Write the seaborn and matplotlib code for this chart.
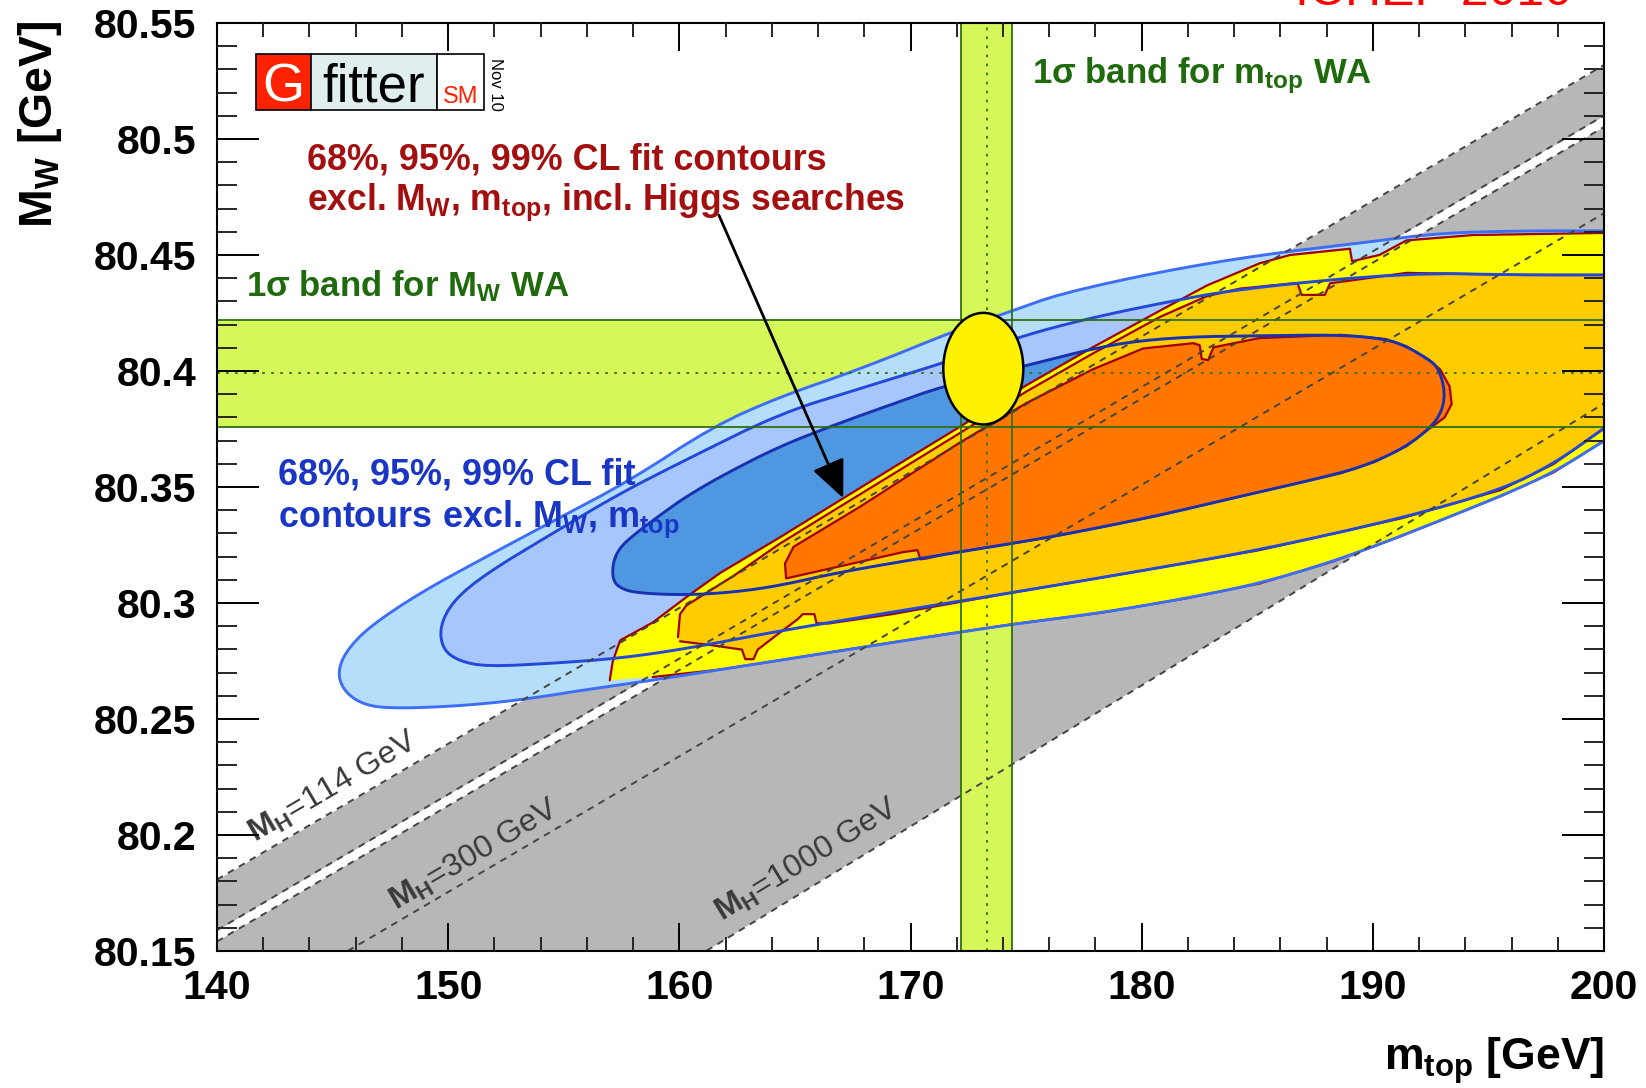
import numpy as np
import pandas as pd
import matplotlib
matplotlib.use("Agg")
import matplotlib.pyplot as plt
from matplotlib.patches import Ellipse, Rectangle
import seaborn as sns

# ---------------- data ----------------
# world averages (1 sigma bands)
mtop_wa, mtop_err = 173.3, 1.1
mw_wa, mw_err = 80.399, 0.023

# direct measurement ellipse
meas_mtop, meas_mw = 173.15, 80.401
meas_width, meas_height = 3.46, 0.0481

# SM prediction for fixed Higgs mass: M_W at m_top = 140 and 200 GeV
higgs_masses = [114, 158, 175, 300, 1000]
mw_at_140 = [80.1808, 80.1590, 80.1541, 80.1169, 80.0214]
mw_at_200 = [80.5319, 80.5101, 80.5052, 80.4680, 80.3860]
higgs_label_masses = [114, 300, 1000]
higgs_label_mtop = [141.64, 147.77, 161.85]
higgs_label_mw = [80.1966, 80.1672, 80.1627]

# fit contours excluding M_W, m_top (standard fit)
blue99_mtop = [200.0, 196.46, 192.91, 189.64, 185.10, 180.79, 176.47, 174.43, 172.16, 167.80,
               164.35, 161.48, 157.85, 154.67, 151.67, 148.77, 146.59, 145.59, 145.22,
               145.45, 146.18, 147.31, 150.22, 153.08, 155.99, 158.85, 161.76, 164.35, 169.21,
               174.29, 178.20, 181.92, 185.10, 188.28, 191.19, 195.50, 197.82, 200.0]
blue99_mw = [80.4604, 80.4604, 80.4595, 80.4554, 80.4500, 80.4428, 80.4333, 80.4260, 80.4183, 80.4007,
             80.3889, 80.3762, 80.3527, 80.3360, 80.3201, 80.3043, 80.2898, 80.2794, 80.2704,
             80.2627, 80.2568, 80.2545, 80.2554, 80.2581, 80.2627, 80.2667, 80.2713, 80.2753, 80.2830,
             80.2907, 80.2957, 80.3020, 80.3084, 80.3179, 80.3287, 80.3459, 80.3563, 80.3699]

blue95_mtop = [200.0, 196.46, 191.46, 184.24, 180.56, 177.38, 174.88, 171.39, 167.84, 164.35,
               160.30, 157.44, 154.53, 151.67, 150.22, 149.63,
               149.77, 150.49, 151.67, 154.53, 157.44, 160.30, 164.35, 169.21, 174.29, 179.65,
               185.10, 191.19, 195.50, 197.82, 200.0]
blue95_mw = [80.4414, 80.4414, 80.4423, 80.4355, 80.4287, 80.4219, 80.4152, 80.4034, 80.3925, 80.3817,
             80.3618, 80.3473, 80.3301, 80.3129, 80.3011, 80.2898,
             80.2799, 80.2749, 80.2726, 80.2740, 80.2762, 80.2803, 80.2880, 80.2961, 80.3043, 80.3133,
             80.3228, 80.3364, 80.3486, 80.3599, 80.3753]

blue68_mtop = [157.12, 157.40, 158.12, 159.21, 160.30, 161.94, 164.35, 166.93, 169.21, 171.39, 174.88,
               177.38, 179.33, 181.92, 185.10, 188.60, 190.55, 191.46, 192.37, 192.78, 193.05, 193.10,
               192.91, 192.46, 191.46, 190.10, 188.60, 184.24, 180.56, 176.02, 171.48, 166.93, 164.35,
               162.39, 160.30, 158.12, 157.40, 157.12]
blue68_mw = [80.3170, 80.3237, 80.3301, 80.3382, 80.3459, 80.3554, 80.3676, 80.3776, 80.3857, 80.3934, 80.4020,
             80.4084, 80.4124, 80.4147, 80.4152, 80.4156, 80.4138, 80.4106, 80.4052, 80.4020, 80.3948, 80.3876,
             80.3812, 80.3753, 80.3676, 80.3609, 80.3559, 80.3459, 80.3373, 80.3283, 80.3210, 80.3133, 80.3075,
             80.3047, 80.3034, 80.3043, 80.3066, 80.3102]

# fit contours including Higgs searches
yellow99_mtop = [156.99, 157.12, 157.44, 158.85, 160.30, 161.76, 164.35, 167.07, 169.66, 172.11, 175.02,
                 177.88, 180.79, 182.83, 185.10, 186.42, 189.01, 189.10, 190.28, 191.46, 194.32, 200.0,
                 200.0, 197.82, 195.50, 191.19, 188.28, 185.10, 181.92, 178.20, 174.29, 169.21, 164.35,
                 161.76, 158.85]
yellow99_mw = [80.2667, 80.2749, 80.2839, 80.2916, 80.3025, 80.3129, 80.3283, 80.3450, 80.3609, 80.3758, 80.3939,
               80.4102, 80.4260, 80.4369, 80.4464, 80.4500, 80.4527, 80.4473, 80.4500, 80.4563, 80.4586, 80.4595,
               80.3699, 80.3563, 80.3459, 80.3287, 80.3179, 80.3084, 80.3020, 80.2957, 80.2907, 80.2830, 80.2753,
               80.2713, 80.2681]

gold95_mtop = [159.94, 160.03, 160.30, 162.39, 164.35, 167.07, 169.66, 172.11, 175.02, 177.88, 180.79,
               182.83, 184.24, 186.56, 186.74, 186.92, 187.92, 188.15, 191.46, 196.46, 200.0,
               200.0, 197.82, 195.50, 191.19, 185.10, 179.65, 174.29, 169.21, 166.48, 165.94, 165.84,
               165.34, 165.12, 164.21, 163.39, 163.21, 162.85, 162.71, 161.48, 160.03]
gold95_mw = [80.2853, 80.2952, 80.2989, 80.3120, 80.3256, 80.3423, 80.3581, 80.3731, 80.3912, 80.4075, 80.4233,
             80.4323, 80.4355, 80.4378, 80.4378, 80.4328, 80.4328, 80.4378, 80.4423, 80.4414, 80.4414,
             80.3753, 80.3599, 80.3486, 80.3364, 80.3228, 80.3133, 80.3043, 80.2952, 80.2912, 80.2912, 80.2952,
             80.2952, 80.2930, 80.2862, 80.2799, 80.2758, 80.2758, 80.2799, 80.2817, 80.2835]

orange68_mtop = [164.57, 164.94, 167.80, 172.11, 175.02, 177.88, 180.06, 182.24, 182.51, 182.60, 182.88,
                 183.10, 185.10, 188.60, 190.55, 191.46, 192.37, 192.91, 193.32, 193.41, 193.10, 192.46,
                 191.46, 190.10, 188.60, 184.24, 180.56, 176.02, 171.48, 170.70, 170.43, 170.30, 169.66,
                 164.62]
orange68_mw = [80.3170, 80.3242, 80.3414, 80.3690, 80.3862, 80.4007, 80.4097, 80.4120, 80.4111, 80.4052, 80.4047,
               80.4102, 80.4142, 80.4156, 80.4138, 80.4106, 80.4052, 80.4007, 80.3934, 80.3857, 80.3799, 80.3753,
               80.3676, 80.3609, 80.3559, 80.3459, 80.3373, 80.3283, 80.3210, 80.3192, 80.3188, 80.3228, 80.3219,
               80.3106]

x_major = [140, 150, 160, 170, 180, 190, 200]
y_major = [80.15, 80.2, 80.25, 80.3, 80.35, 80.4, 80.45, 80.5, 80.55]

# ---------------- style ----------------
sns.set_theme(style="white")
plt.rcParams["font.family"] = ["Liberation Sans", "DejaVu Sans"]
plt.rcParams["font.weight"] = "bold"
plt.rcParams["mathtext.fontset"] = "custom"
plt.rcParams["mathtext.rm"] = "Liberation Sans"
plt.rcParams["mathtext.bf"] = "Liberation Sans:bold"
plt.rcParams["mathtext.it"] = "Liberation Sans:italic"
plt.rcParams["mathtext.default"] = "bf"

GREY = "#b7b7b7"
BAND_FILL = "#d6f75a"
BAND_EDGE = "#2f6f10"
TEXT_GREEN = "#1f6a0c"
TEXT_RED = "#a30f0f"
TEXT_BLUE = "#1a36c4"


def rounded(x, y, closed, n=2):
    """Corner-cutting so the drawn contour edges look smooth."""
    pts = np.column_stack([x, y]).astype(float)
    for _ in range(n):
        if closed:
            p, q = pts, np.roll(pts, -1, axis=0)
            new = np.empty((2 * len(p), 2))
            new[0::2] = 0.75 * p + 0.25 * q
            new[1::2] = 0.25 * p + 0.75 * q
            pts = new
        else:
            p, q = pts[:-1], pts[1:]
            new = np.empty((2 * len(p), 2))
            new[0::2] = 0.75 * p + 0.25 * q
            new[1::2] = 0.25 * p + 0.75 * q
            pts = np.vstack([pts[:1], new, pts[-1:]])
    return pts[:, 0], pts[:, 1]


fig = plt.figure(figsize=(16.46, 10.88), dpi=100)
ax = fig.add_axes([217 / 1646, 1 - 951 / 1088, 1387 / 1646, 928 / 1088])
ax.set_facecolor("white")

# Higgs-mass band (grey), with the excluded strip left white
xs = np.array([140.0, 200.0])
hl = [np.array([a, b]) for a, b in zip(mw_at_140, mw_at_200)]
ax.fill_between(xs, hl[4], hl[2], color=GREY, lw=0, zorder=1.0)
ax.fill_between(xs, hl[1], hl[0], color=GREY, lw=0, zorder=1.0)

# 1 sigma bands of the world averages
ax.axvspan(mtop_wa - mtop_err, mtop_wa + mtop_err, color=BAND_FILL, lw=0, zorder=1.1)
ax.axhspan(mw_wa - mw_err, mw_wa + mw_err, color=BAND_FILL, lw=0, zorder=1.1)

# filled contours
b99 = rounded(blue99_mtop, blue99_mw, False)
b95 = rounded(blue95_mtop, blue95_mw, False)
b68 = rounded(blue68_mtop, blue68_mw, True)
ax.fill(*b99, color="#b5defa", lw=0, zorder=1.2)
ax.fill(*b95, color="#a7c6fb", lw=0, zorder=1.3)
ax.fill(*b68, color="#4f97e0", lw=0, zorder=1.4)
ax.fill(yellow99_mtop, yellow99_mw, color="#ffff00", lw=0, zorder=1.5)
ax.fill(gold95_mtop, gold95_mw, color="#ffcc00", lw=0, zorder=1.6)
ax.fill(orange68_mtop, orange68_mw, color="#ff7700", lw=0, zorder=1.7)


def outline(mt, mw, color, lw, closed, z):
    mt = list(mt) + ([mt[0]] if closed else [])
    mw = list(mw) + ([mw[0]] if closed else [])
    d = pd.DataFrame({"mtop": mt, "MW": mw})
    sns.lineplot(data=d, x="mtop", y="MW", sort=False, estimator=None,
                 color=color, lw=lw, ax=ax, zorder=z)


outline(yellow99_mtop[:22], yellow99_mw[:22], "#a00000", 1.6, False, 1.75)
outline(yellow99_mtop[22:], yellow99_mw[22:], "#a00000", 1.6, False, 1.75)
outline(gold95_mtop[:21], gold95_mw[:21], "#a00000", 1.6, False, 1.75)
outline(gold95_mtop[21:], gold95_mw[21:], "#a00000", 1.6, False, 1.75)
outline(orange68_mtop, orange68_mw, "#a00000", 1.6, True, 1.75)
outline(*b99, "#3d6ef5", 2.1, False, 1.8)
outline(*b95, "#2448d8", 2.1, False, 1.8)
outline(*b68, "#1632b2", 2.1, True, 1.8)

# SM lines for fixed Higgs mass
for lo, hi in zip(mw_at_140, mw_at_200):
    ax.plot(xs, [lo, hi], color="#444444", lw=1.4, ls=(0, (3.5, 3.0)), zorder=1.9)

# band borders and central values
for v in (mtop_wa - mtop_err, mtop_wa + mtop_err):
    ax.axvline(v, color=BAND_EDGE, lw=1.3, zorder=2.0)
for v in (mw_wa - mw_err, mw_wa + mw_err):
    ax.axhline(v, color=BAND_EDGE, lw=1.3, zorder=2.0)
ax.axvline(mtop_wa, color=BAND_EDGE, lw=1.3, ls=(0, (1.5, 3.5)), zorder=2.0)
ax.axhline(mw_wa, color=BAND_EDGE, lw=1.3, ls=(0, (1.5, 3.5)), zorder=2.0)

# direct measurement
ax.add_patch(Ellipse((meas_mtop, meas_mw), meas_width, meas_height, facecolor="#fff200",
                     edgecolor="black", lw=1.8, zorder=2.1))

ax.set_xlim(140, 200)
ax.set_ylim(80.15, 80.55)
ax.set_xlabel("")
ax.set_ylabel("")

# arrow from the Higgs-search label to the contours
ax.annotate("", xy=(167.09, 80.3452), xytext=(161.71, 80.4672),
            arrowprops=dict(arrowstyle="-|>,head_length=0.9,head_width=0.4", color="black",
                            lw=2.0, shrinkA=0, shrinkB=0, mutation_scale=26), zorder=2.2)

# ticks
ax.set_xticks(x_major)
ax.set_xticks(np.arange(140, 200.1, 2), minor=True)
ax.set_yticks(y_major)
ax.set_yticks(np.arange(80.15, 80.5501, 0.01), minor=True)
ax.set_xticklabels([f"{v:g}" for v in x_major])
ax.set_yticklabels([f"{v:g}" for v in y_major])
ax.tick_params(axis="x", which="major", direction="in", length=20, width=1.4,
               top=True, bottom=True, labelsize=29.5, pad=13, colors="black")
ax.tick_params(axis="x", which="minor", direction="in", length=10, width=1.4, top=True, bottom=True)
ax.tick_params(axis="y", which="major", direction="in", length=30, width=1.4,
               left=True, right=True, labelsize=29.5, pad=15, colors="black")
ax.tick_params(axis="y", which="minor", direction="in", length=14.5, width=1.4, left=True, right=True)
for lab in ax.get_xticklabels() + ax.get_yticklabels():
    lab.set_fontweight("bold")
for sp in ax.spines.values():
    sp.set_visible(True)
    sp.set_color("black")
    sp.set_linewidth(1.5)
    sp.set_zorder(30)
ax.xaxis.set_zorder(30)
ax.yaxis.set_zorder(30)

# Higgs-mass labels, rotated along the lines
for m, x0, y0 in zip(higgs_label_masses, higgs_label_mtop, higgs_label_mw):
    i = higgs_masses.index(m)
    a = ax.transData.transform((140, mw_at_140[i]))
    b = ax.transData.transform((200, mw_at_200[i]))
    ang = np.degrees(np.arctan2(b[1] - a[1], b[0] - a[0]))
    ax.text(x0, y0, rf"$\mathrm{{M_H}}$={m} GeV", rotation=ang, rotation_mode="anchor",
            ha="left", va="baseline", fontsize=23, fontweight="normal", color="#3a3a3a", zorder=2.3)

# annotations
ax.text(175.25, 80.5238, r"1σ band for $m_{top}$ WA", color=TEXT_GREEN, fontsize=25, zorder=2.3)
ax.text(141.27, 80.4324, r"1σ band for $M_W$ WA", color=TEXT_GREEN, fontsize=25, zorder=2.3)
ax.text(143.91, 80.4867, "68%, 95%, 99% CL fit contours", color=TEXT_RED, fontsize=25.8, zorder=2.3)
ax.text(143.91, 80.4695, r"excl. $M_W$, $m_{top}$, incl. Higgs searches", color=TEXT_RED,
        fontsize=25.6, zorder=2.3)
ax.text(142.63, 80.3509, "68%, 95%, 99% CL fit", color=TEXT_BLUE, fontsize=25.9, zorder=2.3)
ax.text(142.63, 80.3328, r"contours excl. $M_W$, $m_{top}$", color=TEXT_BLUE, fontsize=25.9, zorder=2.3)

# Gfitter logo
T = ax.transAxes
ax.add_patch(Rectangle((0.0281, 0.9062), 0.0397, 0.0604, transform=T, facecolor="#ff2200",
                       edgecolor="black", lw=1.2, zorder=40, clip_on=False))
ax.add_patch(Rectangle((0.0678, 0.9062), 0.0908, 0.0604, transform=T, facecolor="#e0eeee",
                       edgecolor="black", lw=1.2, zorder=40, clip_on=False))
ax.add_patch(Rectangle((0.1586, 0.9062), 0.0339, 0.0604, transform=T, facecolor="white",
                       edgecolor="black", lw=1.2, zorder=40, clip_on=False))
ax.text(0.0480, 0.915, "G", transform=T, ha="center", va="baseline", fontsize=39,
        fontweight="normal", color="white", zorder=41)
ax.text(0.1132, 0.915, "fitter", transform=T, ha="center", va="baseline", fontsize=38,
        fontweight="normal", color="black", zorder=41)
ax.text(0.1757, 0.914, "SM", transform=T, ha="center", va="baseline", fontsize=17,
        fontweight="normal", color="#ff2200", zorder=41)
ax.text(0.2011, 0.9343, "Nov 10", transform=T, ha="center", va="center", rotation=270,
        fontsize=12, fontweight="normal", color="black", zorder=41)

# axis titles and conference tag
fig.text(0.024, 0.981, r"$M_W$ [GeV]", rotation=90, ha="center", va="top", fontsize=33.5,
         fontweight="bold", color="black")
fig.text(1604 / 1646, 1 - 1070 / 1088, r"$m_{top}$ [GeV]", ha="right", va="baseline",
         fontsize=32, fontweight="bold", color="black")
fig.text(1295 / 1646, 1 - 5 / 1088, "ICHEP 2010", ha="left", va="baseline", fontsize=36,
         fontweight="normal", color="#ff0000")

fig.savefig("out.png", dpi=100, facecolor="white")
